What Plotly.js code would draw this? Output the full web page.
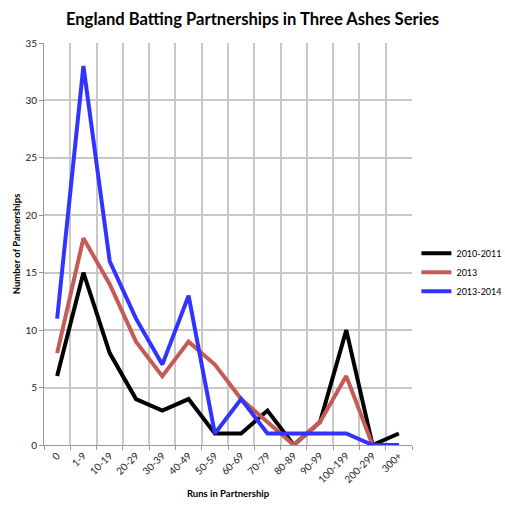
<!DOCTYPE html>
<html>
<head>
<meta charset="utf-8">
<script src="https://cdn.plot.ly/plotly-3.0.1.min.js"></script>
<style>html,body{margin:0;padding:0;background:#fff;}#chart{width:505px;height:508px;}</style>
</head>
<body>
<div id="chart"></div>
<script>
const categories = ["0","1-9","10-19","20-29","30-39","40-49","50-59","60-69","70-79","80-89","90-99","100-199","200-299","300+"];
const series2010 = [6,15,8,4,3,4,1,1,3,0,2,10,0,1];
const series2013 = [8,18,14,9,6,9,7,4,2,0,2,6,0,0];
const series2014 = [11,33,16,11,7,13,1,4,1,1,1,1,0,0];
const seriesNames = ["2010-2011","2013","2013-2014"];
const seriesColors = ["#000000","#C55A56","#3333FF"];

const data = [series2010, series2013, series2014].map((vals, i) => ({
  x: categories,
  y: vals,
  type: "scatter",
  mode: "lines",
  name: seriesNames[i],
  line: {color: seriesColors[i], width: 4}
}));

const layout = {
  width: 505,
  height: 508,
  margin: {l: 44, r: 93, t: 43, b: 63, autoexpand: false},
  paper_bgcolor: "#fff",
  plot_bgcolor: "#fff",
  font: {family: "Lato, 'Open Sans', sans-serif", color: "#000", size: 10},
  title: {
    text: "<b>England Batting Partnerships in Three Ashes Series</b>",
    font: {size: 16.6, color: "#000"},
    x: 0.5, xanchor: "center", xref: "container", y: 0.962, yanchor: "middle"
  },
  xaxis: {
    type: "category",
    range: [-0.5, 13.5],
    tickson: "boundaries",
    ticks: "outside",
    ticklen: 4,
    tickcolor: "#999",
    tickangle: -45,
    tickfont: {size: 10, color: "#222"},
    showgrid: true,
    gridcolor: "#C8C8C8",
    gridwidth: 2,
    showline: true,
    linecolor: "#999",
    linewidth: 1,
    zeroline: false,
    fixedrange: true,
    title: {text: "<b>Runs in Partnership</b>", font: {size: 9.5, color: "#000"}, standoff: 6}
  },
  yaxis: {
    range: [0, 35],
    dtick: 5,
    ticks: "outside",
    ticklen: 4,
    tickcolor: "#999",
    tickfont: {size: 10, color: "#222"},
    showgrid: true,
    gridcolor: "#C8C8C8",
    gridwidth: 2,
    showline: true,
    linecolor: "#999",
    linewidth: 1,
    zeroline: false,
    fixedrange: true,
    title: {text: "<b>Number of Partnerships</b>", font: {size: 9.5, color: "#000"}, standoff: 3}
  },
  showlegend: true,
  legend: {
    x: 1.012, xanchor: "left",
    y: 0.43, yanchor: "middle",
    font: {size: 9, color: "#000"},
    itemwidth: 30,
    tracegroupgap: 0,
    bgcolor: "rgba(0,0,0,0)"
  }
};

Plotly.newPlot("chart", data, layout, {displayModeBar: false, staticPlot: true});
</script>
</body>
</html>
